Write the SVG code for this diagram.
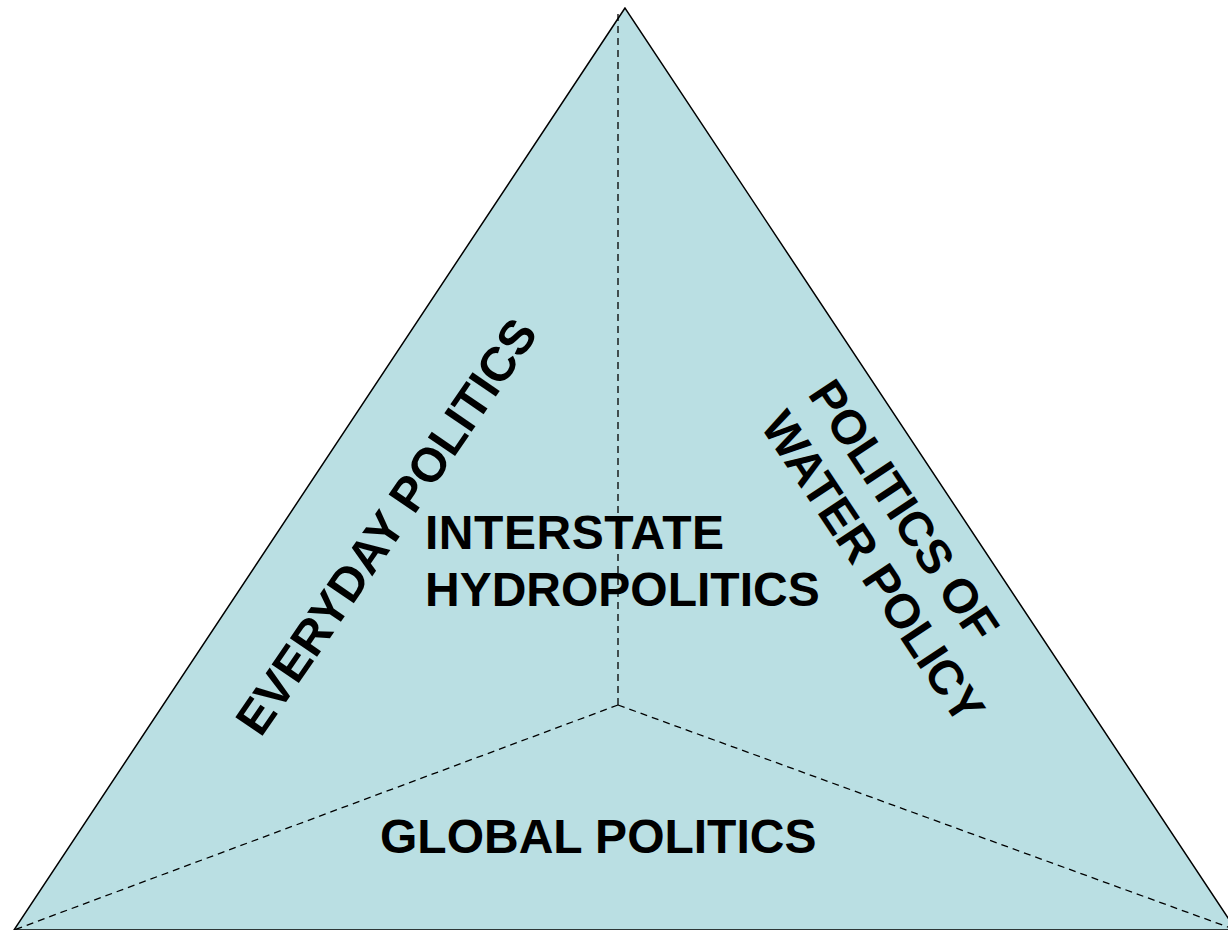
<svg xmlns="http://www.w3.org/2000/svg" width="1228" height="930" viewBox="0 0 1228 930">
<style>
.lbl{font-family:"Liberation Sans",Arial,sans-serif;font-weight:bold;font-size:48px;fill:#000}
.dash{stroke:#000;stroke-width:1.3;stroke-dasharray:7,5;fill:none}
</style>
<rect width="1228" height="930" fill="#fff"/>
<g id="triangle">
<polygon points="625,8 14,930 1236,930" fill="#BADFE3" stroke="#000" stroke-width="1.5"/>
</g>
<g id="connectors">
<line class="dash" x1="618" y1="705" x2="618" y2="9"/>
<line class="dash" x1="618" y1="705" x2="14" y2="930"/>
<line class="dash" x1="618" y1="705" x2="1236" y2="930"/>
</g>
<g id="interstate">
<text class="lbl" x="425" y="549" textLength="299">INTERSTATE</text>
<text class="lbl" x="425" y="606">HYDROPOLITICS</text>
</g>
<g id="global">
<text class="lbl" x="380" y="853">GLOBAL POLITICS</text>
</g>
<g id="everyday">
<text class="lbl" text-anchor="middle" transform="translate(400,536) rotate(-55.5)">EVERYDAY POLITICS</text>
</g>
<g id="waterpolicy">
<text class="lbl" transform="translate(807,394) rotate(56.5)"><tspan x="0" y="0">POLITICS OF</tspan><tspan x="0" y="57">WATER POLICY</tspan></text>
</g>
</svg>
